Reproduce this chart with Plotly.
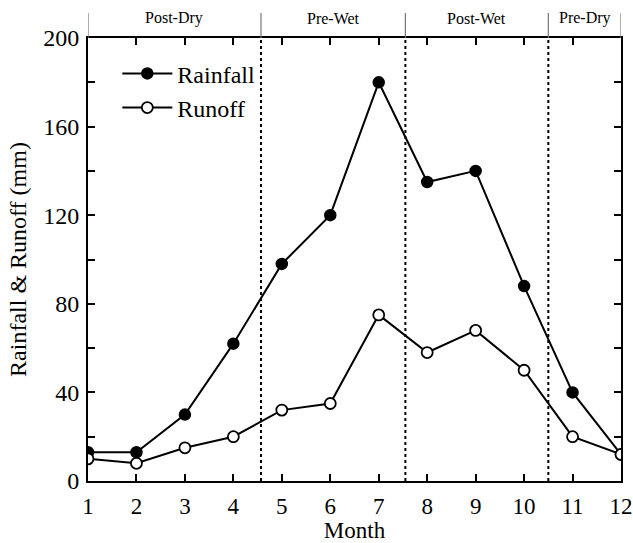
import plotly.graph_objects as go

months = [1, 2, 3, 4, 5, 6, 7, 8, 9, 10, 11, 12]
rainfall = [13, 13, 30, 62, 98, 120, 180, 135, 140, 88, 40, 12]
runoff = [10, 8, 15, 20, 32, 35, 75, 58, 68, 50, 20, 12]

season_bounds = [1, 4.57, 7.55, 10.5, 12]
season_names = ["Post-Dry", "Pre-Wet", "Post-Wet", "Pre-Dry"]
dividers = [4.57, 7.55, 10.5]

y_tickvals = [0, 20, 40, 60, 80, 100, 120, 140, 160, 180, 200]
y_ticktext = ["0", "", "40", "", "80", "", "120", "", "160", "", "200"]

FONT = "Liberation Serif, Times New Roman, serif"

fig = go.Figure()
fig.add_trace(go.Scatter(
    x=months, y=rainfall, mode="lines+markers", name="Rainfall",
    line=dict(color="black", width=2),
    marker=dict(symbol="circle", size=11, color="black",
                line=dict(color="black", width=1.5)),
))
fig.add_trace(go.Scatter(
    x=months, y=runoff, mode="lines+markers", name="Runoff",
    line=dict(color="black", width=2),
    marker=dict(symbol="circle", size=11, color="white",
                line=dict(color="black", width=1.8)),
))

shapes = []
for d in dividers:
    shapes.append(dict(type="line", xref="x", yref="y", x0=d, x1=d, y0=0, y1=200,
                       line=dict(color="black", width=2, dash="dot")))
for b in season_bounds:
    shapes.append(dict(type="line", xref="x", yref="paper", x0=b, x1=b,
                       y0=1, y1=1 + 25 / 443,
                       line=dict(color="#777777", width=1.2)))

annotations = []
for i, name in enumerate(season_names):
    cx = (season_bounds[i] + season_bounds[i + 1]) / 2
    annotations.append(dict(x=cx, y=1 + 20 / 443, xref="x", yref="paper",
                            text=name, showarrow=False,
                            font=dict(family=FONT, size=16, color="black"),
                            xanchor="center", yanchor="middle"))

fig.update_layout(
    width=633, height=543,
    margin=dict(l=88, r=12, t=38, b=62),
    paper_bgcolor="white", plot_bgcolor="white",
    font=dict(family=FONT, size=24, color="black"),
    shapes=shapes, annotations=annotations,
    showlegend=True,
    legend=dict(x=0.055, y=0.97, xanchor="left", yanchor="top",
                bgcolor="rgba(0,0,0,0)", font=dict(family=FONT, size=24),
                itemwidth=50, tracegroupgap=0),
    xaxis=dict(range=[1, 12], tickmode="array", tickvals=months,
               ticks="inside", ticklen=7, tickwidth=2, tickcolor="black",
               showline=True, linecolor="black", linewidth=2, mirror="allticks",
               showgrid=False, zeroline=False, automargin=False,
               ticklabelstandoff=3,
               tickfont=dict(family=FONT, size=23),
               title=dict(text="Month", font=dict(family=FONT, size=23), standoff=4)),
    yaxis=dict(range=[0, 200], tickmode="array", tickvals=y_tickvals, ticktext=y_ticktext,
               ticks="inside", ticklen=7, tickwidth=2, tickcolor="black",
               showline=True, linecolor="black", linewidth=2, mirror="allticks",
               showgrid=False, zeroline=False, automargin=False,
               ticklabelstandoff=2,
               tickfont=dict(family=FONT, size=24),
               title=dict(text="Rainfall &amp; Runoff (mm)", font=dict(family=FONT, size=24), standoff=10)),
)

fig.write_html("out.html")
